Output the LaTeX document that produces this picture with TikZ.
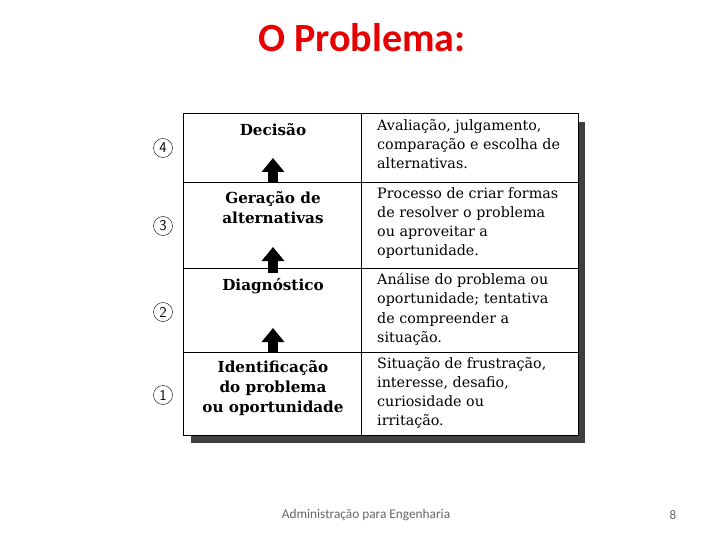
\documentclass[tikz,border=0pt]{standalone}
\usepackage{fontspec}
\setmainfont{DejaVu Serif}
\newfontfamily\titlefont{Carlito}
\usetikzlibrary{arrows.meta}
\definecolor{titlered}{RGB}{230,0,0}
\colorlet{shadowcolor}{black!75}
\colorlet{footcolor}{black!60}
\tikzstyle{stage} =[
    font=\bfseries\fontsize{15.2}{20}\selectfont,
    align=center,
    inner sep=0pt
    ]
\tikzstyle{remark} =[
    font=\fontsize{14.3}{19.2}\selectfont,
    align=left,
    anchor=north west,
    inner sep=0pt
    ]
\tikzstyle{stepnum} =[
    circle,
    draw,
    thin,
    inner sep=0pt,
    minimum size=19pt,
    font=\sffamily\fontsize{15}{15}\selectfont
    ]
\tikzstyle{uparrow} =[
    line width=10pt,
    -{Triangle[width=22pt,length=14pt]}
    ]

\begin{document}
\begin{tikzpicture}[x=1pt, y=-1pt]
\useasboundingbox[fill=white] (0,0) rectangle (720,540);

% title and footer
\node[font=\titlefont\bfseries\fontsize{40}{40}\selectfont, text=titlered] (title) at (362,38) {O Problema:};
\node[font=\titlefont\fontsize{13.3}{13.3}\selectfont, text=footcolor] (foot) at (366,515) {Administração para Engenharia};
\node[font=\titlefont\fontsize{13}{13}\selectfont, text=footcolor] (page) at (673,515) {8};

% shadow and frame
\fill[shadowcolor] (191,122) rectangle (585,443);
\draw[fill=white, thick] (183,113) rectangle (578,435);
\draw[thick] (361,113) -- (361,435);
\foreach \y in {182,268,352}
    \draw[thick] (183,\y) -- (578,\y);

% stages
\node[stage] (decisao) at (273,130) {Decisão};
\node[stage] (geracao) at (273,208) {Geração de\\alternativas};
\node[stage] (diagnostico) at (273,286) {Diagnóstico};
\node[stage] (identificacao) at (273,388) {Identificação\\do problema\\ou oportunidade};

% remarks
\node[remark] (r4) at (377,119) {Avaliação, julgamento,\\comparação e escolha de\\alternativas.};
\node[remark] (r3) at (377,187) {Processo de criar formas\\de resolver o problema\\ou aproveitar a\\oportunidade.};
\node[remark] (r2) at (377,273) {Análise do problema ou\\oportunidade; tentativa\\de compreender a\\situação.};
\node[remark] (r1) at (377,357) {Situação de frustração,\\interesse, desafio,\\curiosidade ou\\irritação.};

% numbers
\node[stepnum] (n4) at (163,148) {4};
\node[stepnum] (n3) at (163,226) {3};
\node[stepnum] (n2) at (163,312) {2};
\node[stepnum] (n1) at (163,395) {1};

% arrows
\coordinate (a4) at (273,158);
\coordinate (b4) at (273,183);
\coordinate (a3) at (273,247);
\coordinate (b3) at (273,273);
\coordinate (a2) at (273,328);
\coordinate (b2) at (273,352);
\draw[uparrow] (b4) -- (a4);
\draw[uparrow] (b3) -- (a3);
\draw[uparrow] (b2) -- (a2);
\end{tikzpicture}
\end{document}
